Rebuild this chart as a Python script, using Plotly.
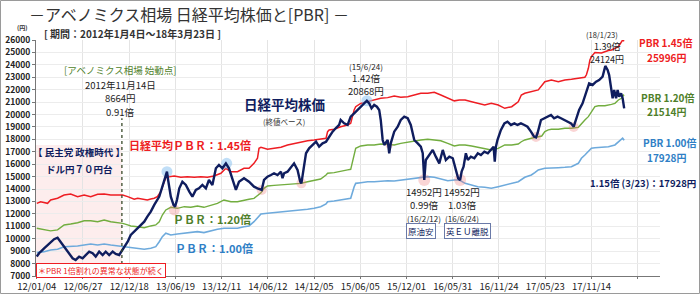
import plotly.graph_objects as go

# ---------------- data (trading-day index from 2012-01-04) ----------------
tick_days = [0, 120, 240, 360, 480, 600, 720, 840, 960, 1080, 1200, 1320, 1440, 1560]
tick_labels = ["12/01/04", "12/06/27", "12/12/18", "13/06/19", "13/12/11", "14/06/12", "14/12/05",
               "15/06/05", "15/12/01", "16/05/31", "16/11/24", "17/05/23", "17/11/14", ""]

nikkei_day = [0, 6, 19, 32, 45, 54, 62, 71, 84, 93, 101, 110, 119, 127, 136, 145, 153, 162, 171, 179, 188, 197, 205, 214, 220,
              227, 236, 244, 253, 262, 270, 279, 287, 296, 305, 312, 318, 326, 333, 338, 341, 348, 355, 359, 364, 370, 378, 387,
              396, 404, 413, 421, 430, 439, 447, 456, 465, 473, 482, 491, 499, 508, 517, 525, 538, 551, 556, 564, 573, 584, 590,
              599, 608, 616, 625, 634, 638, 642, 651, 660, 668, 677, 684, 687, 693, 699, 707, 716, 725, 733, 742, 751, 759, 768,
              776, 785, 789, 798, 807, 815, 824, 833, 841, 850, 857, 863, 869, 876, 883, 889, 893, 898, 902, 911, 915, 919, 928,
              937, 945, 954, 963, 971, 976, 980, 989, 997, 1002, 1006, 1010, 1019, 1028, 1036, 1045, 1054, 1062, 1071, 1080, 1088,
              1094, 1099, 1103, 1108, 1114, 1119, 1127, 1136, 1145, 1153, 1162, 1171, 1179, 1186, 1189, 1192, 1196, 1205, 1214,
              1222, 1231, 1240, 1248, 1257, 1266, 1274, 1283, 1291, 1296, 1300, 1309, 1317, 1326, 1335, 1343, 1352, 1361, 1369,
              1378, 1387, 1394, 1400, 1408, 1417, 1426, 1434, 1443, 1452, 1460, 1469, 1476, 1482, 1486, 1491, 1495, 1499, 1504,
              1508, 1512, 1517, 1521, 1525]
nikkei_val = [8560, 8830, 9230, 9630, 9960, 10085, 9760, 9360, 8830, 8430, 8290, 8560, 8430, 8690, 8960, 8830, 8560, 8960, 8690,
              8960, 8690, 8960, 8770, 8690, 8960, 9360, 9760, 10300, 10570, 10840, 11110, 11370, 11780, 12180, 12720, 13120, 13390,
              14190, 15000, 15400, 14730, 13390, 12720, 12580, 13120, 14060, 14590, 14330, 13790, 13390, 13930, 14060, 14330, 14060,
              14730, 14330, 15670, 15940, 15670, 16070, 15670, 14730, 13930, 14590, 14870, 14590, 14460, 14190, 14060, 13930, 14730,
              15000, 15130, 15270, 15130, 15400, 14870, 15270, 15400, 15800, 16070, 15540, 14590, 14460, 15540, 16880, 17280, 17550,
              17810, 17410, 17680, 17810, 18220, 18620, 18890, 19160, 19560, 19290, 19160, 19830, 20100, 20370, 20630, 20900, 21110,
              20900, 20500, 20770, 20630, 20370, 19560, 17950, 17550, 17950, 16880, 17680, 18620, 19020, 19560, 19830, 19700, 19160,
              18490, 17950, 17680, 17410, 16880, 14730, 16340, 16740, 17150, 16610, 16070, 17150, 16340, 16610, 16480, 15540, 14870,
              14730, 15400, 15800, 16880, 16340, 16610, 16480, 16880, 16740, 17010, 16880, 17150, 17410, 16200, 17410, 17950, 18760,
              19290, 19420, 19160, 19290, 19160, 19290, 19160, 19020, 18620, 18220, 18160, 18490, 19560, 19700, 19830, 19960, 19700,
              19830, 19700, 19560, 19420, 19290, 19020, 19560, 20370, 20900, 21710, 22510, 22380, 22640, 22780, 23050, 23910, 23590,
              23180, 22240, 21310, 21980, 21310, 21980, 21440, 21710, 21310, 20500]

pbr145_day = [0, 10, 28, 36, 54, 71, 88, 106, 123, 140, 158, 175, 192, 210, 223, 236, 244, 253, 262, 279, 287, 296, 305, 313, 322,
              331, 338, 344, 357, 374, 391, 409, 426, 443, 460, 478, 491, 504, 521, 538, 551, 564, 573, 577, 582, 599, 616, 634,
              651, 668, 686, 703, 720, 737, 751, 755, 759, 772, 789, 807, 815, 824, 828, 841, 859, 876, 893, 911, 928, 945, 963,
              980, 997, 1015, 1032, 1049, 1067, 1084, 1097, 1112, 1129, 1145, 1163, 1180, 1198, 1215, 1233, 1250, 1258, 1267, 1284,
              1302, 1319, 1336, 1354, 1371, 1388, 1406, 1423, 1427, 1432, 1436, 1440, 1449, 1466, 1484, 1492, 1510, 1517, 1521, 1525]
pbr145_val = [12850, 12980, 12850, 13120, 13260, 13520, 13600, 13390, 13520, 13390, 13580, 13600, 13520, 13520, 13520, 13390, 13260,
              13180, 13260, 13180, 13120, 13200, 13260, 13390, 13790, 14590, 15130, 15000, 15050, 14950, 15000, 14950, 15000, 14950,
              15050, 15270, 15670, 15400, 15400, 15670, 15670, 16070, 16480, 17280, 17360, 17200, 17280, 17360, 17550, 17680, 17810,
              17890, 17950, 18010, 18090, 18620, 18760, 18810, 19020, 19160, 19290, 20370, 20630, 20900, 21030, 21170, 21310, 21360,
              21490, 21390, 21440, 21570, 21710, 21710, 21790, 21570, 21310, 21100, 21170, 21170, 21030, 20900, 20770, 20900, 20770,
              20500, 20630, 21030, 21570, 21710, 21840, 21980, 22640, 22780, 22640, 22780, 22840, 22920, 23000, 23200, 23720, 24400,
              24660, 25000, 24950, 25150, 25200, 25470, 25800, 26000, 25900]

pbr120_day = [0, 19, 36, 54, 71, 88, 106, 123, 140, 158, 175, 192, 210, 223, 236, 244, 262, 279, 296, 309, 318, 326, 335, 348, 365,
              383, 400, 417, 434, 452, 469, 486, 504, 521, 538, 551, 564, 582, 590, 599, 616, 634, 651, 668, 686, 703, 720, 737,
              751, 755, 772, 789, 807, 815, 824, 828, 841, 859, 876, 893, 911, 928, 945, 963, 980, 997, 1015, 1032, 1049, 1067,
              1084, 1097, 1112, 1129, 1145, 1163, 1180, 1198, 1206, 1215, 1233, 1250, 1258, 1267, 1284, 1302, 1311, 1319, 1328,
              1336, 1354, 1371, 1388, 1406, 1414, 1423, 1432, 1440, 1449, 1458, 1475, 1492, 1501, 1510, 1518, 1521, 1523, 1525]
pbr120_val = [10840, 10710, 10630, 10710, 11110, 11190, 11290, 11450, 11450, 11370, 11510, 11370, 11290, 11240, 11110, 11030, 10970,
              10890, 11030, 11110, 11370, 11910, 12320, 12530, 12450, 12580, 12530, 12640, 12530, 12720, 12850, 13120, 12980, 12980,
              13120, 13180, 13250, 13700, 14060, 14250, 14300, 14350, 14410, 14410, 14460, 14590, 14730, 14810, 15130, 15270, 15320,
              15400, 15540, 15590, 16880, 17280, 17470, 17550, 17550, 17630, 17600, 17550, 17680, 17790, 17890, 17950, 18010, 17950,
              17890, 17680, 17470, 17550, 17550, 17470, 17360, 17280, 17150, 17280, 17410, 17550, 17550, 17630, 17810, 17950, 18090,
              18220, 18270, 18620, 18760, 18810, 18810, 18890, 18890, 18970, 19290, 19560, 19830, 20230, 20630, 20710, 20710, 20820,
              20900, 21170, 21310, 21440, 21570, 21514]

pbr100_day = [0, 19, 36, 54, 71, 88, 106, 123, 140, 158, 175, 192, 210, 223, 236, 244, 262, 279, 296, 309, 318, 326, 335, 348, 365,
              383, 400, 417, 434, 452, 469, 486, 504, 521, 538, 551, 564, 577, 582, 599, 616, 634, 651, 668, 686, 703, 720, 737,
              751, 755, 772, 789, 807, 815, 824, 828, 841, 859, 876, 893, 911, 928, 945, 963, 980, 997, 1015, 1032, 1049, 1067,
              1084, 1097, 1112, 1129, 1145, 1163, 1180, 1198, 1215, 1233, 1250, 1267, 1284, 1293, 1302, 1319, 1336, 1354, 1371,
              1388, 1406, 1414, 1423, 1432, 1440, 1449, 1466, 1484, 1501, 1518, 1521, 1525]
pbr100_val = [8880, 8960, 9100, 9150, 9360, 9360, 9420, 9500, 9580, 9500, 9580, 9500, 9420, 9360, 9360, 9310, 9230, 9150, 9230, 9360,
              9760, 10170, 10440, 10300, 10380, 10440, 10490, 10570, 10490, 10650, 10760, 10840, 10840, 10840, 10970, 11030, 11370,
              11780, 11990, 12050, 12100, 12180, 12180, 12260, 12320, 12370, 12450, 12580, 12800, 12980, 13040, 13120, 13180, 13260,
              14190, 14460, 14510, 14590, 14590, 14650, 14670, 14650, 14730, 14810, 14870, 14950, 15000, 14950, 14790, 14670, 14730,
              14730, 14460, 14330, 14190, 14140, 14060, 14190, 14330, 14460, 14590, 14950, 15130, 15320, 15540, 15670, 15670, 15720,
              15750, 15800, 16070, 16480, 16740, 17010, 17280, 17330, 17360, 17410, 17550, 17950, 18090, 17928]

low_day = [357, 584, 687, 915, 1006, 1099, 1296, 1394]
low_val = [12320, 13930, 14460, 17550, 14730, 14730, 18200, 19000]
low_size = [11, 10, 10, 7, 12, 12, 10, 10]
peak_day = [338, 493, 857]
peak_val = [15400, 16070, 21110]

abenomics_start_day = 221
dpj_shade_top = 17550

# ---------------- layout helpers ----------------
W, H = 700, 294
L, R, T, B = 36, 40, 40, 18
PW, PH = W - L - R, H - T - B


def P(x, y):
    return (x - L) / PW, (H - B - y) / PH


FONT = "Noto Sans CJK JP"
NAVY = "#0f1d5e"
RED = "#ee1d23"
GREEN_L = "#72ad3f"
GREEN_T = "#4f7f2a"
BLUE_L = "#6eaadc"
BLUE_T = "#2f7fc6"
DARK = "#222222"

fig = go.Figure()

fig.add_trace(go.Scatter(x=pbr100_day, y=pbr100_val, mode="lines", line=dict(color=BLUE_L, width=1.6), hoverinfo="skip"))
fig.add_trace(go.Scatter(x=pbr120_day, y=pbr120_val, mode="lines", line=dict(color=GREEN_L, width=1.4), hoverinfo="skip"))
fig.add_trace(go.Scatter(x=pbr145_day, y=pbr145_val, mode="lines", line=dict(color=RED, width=1.5), hoverinfo="skip"))
fig.add_trace(go.Scatter(x=low_day, y=low_val, mode="markers",
                         marker=dict(size=low_size, color="rgba(240,120,120,0.45)", line=dict(width=0)), hoverinfo="skip"))
fig.add_trace(go.Scatter(x=peak_day, y=peak_val, mode="markers",
                         marker=dict(size=11, color="rgba(140,195,240,0.55)", line=dict(width=0)), hoverinfo="skip"))
fig.add_trace(go.Scatter(x=nikkei_day, y=nikkei_val, mode="lines", line=dict(color=NAVY, width=2.4), hoverinfo="skip"))

shapes = [
    dict(type="rect", xref="x", yref="y", x0=-2, x1=abenomics_start_day, y0=7000, y1=dpj_shade_top,
         fillcolor="#fdeded", line=dict(width=0), layer="below"),
    dict(type="line", xref="x", yref="y", x0=abenomics_start_day, x1=abenomics_start_day, y0=7000, y1=19700,
         line=dict(color="#3a4a2a", width=1.3, dash="dot")),
]
bx0, by0 = P(0.5, H - 0.5)
bx1, by1 = P(W - 0.5, 0.5)
shapes.append(dict(type="rect", xref="paper", yref="paper", x0=bx0, x1=bx1, y0=by0, y1=by1,
                   line=dict(color="#9a9a9a", width=1), fillcolor="rgba(0,0,0,0)"))

ann = []


def text(t, x, y, size=9.5, color=DARK, bold=False, anchor="center", **kw):
    px, py = P(x, y)
    if bold:
        t = "<b>" + t + "</b>"
    ann.append(dict(text=t, x=px, y=py, xref="paper", yref="paper", showarrow=False,
                    xanchor=anchor, yanchor="middle", font=dict(family=FONT, size=size, color=color), **kw))


text("－アベノミクス相場 日経平均株価と[PBR] －", 189, 14, size=16, color="#333333")
text("[ 期間：2012年1月4日～18年3月23日 ]", 42, 33, size=10, color="#333333", bold=True, anchor="left")
text("(円)", 22, 28, size=6, color="#333333", bold=True)

text("[アベノミクス相場 始動点]", 120, 70, size=9.5, color=GREEN_T)
text("2012年11月14日", 120, 85, size=9.5)
text("8664円", 120, 98, size=9.5)
text("0.91倍", 120, 112, size=9.5)

text("【 民主党 政権時代 】", 79, 152, size=9.5, color=NAVY, bold=True)
text("ドル円７０円台", 79, 169, size=9.5, color=NAVY, bold=True)

text("日経平均ＰＢＲ：1.45倍", 190, 145, size=11, color=RED, bold=True)
text("ＰＢＲ：1.20倍", 212, 219, size=11, color=GREEN_T, bold=True)
text("ＰＢＲ：1.00倍", 214, 248, size=11, color=BLUE_T, bold=True)

text("＊PBR 1倍割れの異常な状態が続く", 101, 270, size=8, color=RED, bordercolor=RED, borderwidth=1,
     borderpad=1, bgcolor="white")

text("日経平均株価", 284, 104, size=13.5, color=NAVY, bold=True)
text("(終値ベース)", 284, 122, size=7.5, color="#333333")

text("(15/6/24)", 366, 66, size=8)
text("1.42倍", 366, 78, size=9.5)
text("20868円", 366, 91, size=9.5)

text("14952円", 424, 192, size=9.5)
text("0.99倍", 424, 205, size=9.5)
text("(16/2/12)", 424, 218, size=8)
text("原油安", 421, 231, size=8.5, color=NAVY, bordercolor="#6a7aa8", borderwidth=1, borderpad=1, bgcolor="white")

text("14952円", 462, 192, size=9.5)
text("1.03倍", 462, 205, size=9.5)
text("(16/6/24)", 462, 218, size=8)
text("英ＥＵ離脱", 467, 231, size=8.5, color=NAVY, bordercolor="#6a7aa8", borderwidth=1, borderpad=1, bgcolor="white")

text("(18/1/23)", 602, 34, size=7.5)
text("1.39倍", 607, 46, size=9)
text("24124円", 607, 59, size=9)

text("PBR 1.45倍", 666, 43, size=10, color=RED, bold=True)
text("25996円", 667, 57, size=10, color=RED, bold=True)
text("PBR 1.20倍", 668, 97, size=10, color=GREEN_T, bold=True)
text("21514円", 667, 112, size=10, color=GREEN_T, bold=True)
text("PBR 1.00倍", 670, 142, size=10, color=BLUE_T, bold=True)
text("17928円", 667, 157, size=10, color=BLUE_T, bold=True)
text("1.15倍 (3/23)：17928円", 643, 183, size=9.5, color=NAVY, bold=True)

fig.update_layout(
    width=W, height=H, margin=dict(l=L, r=R, t=T, b=B, autoexpand=False),
    plot_bgcolor="white", paper_bgcolor="white", showlegend=False,
    shapes=shapes, annotations=ann,
    xaxis=dict(range=[-2, 1618], tickvals=tick_days, ticktext=tick_labels, showgrid=True, gridcolor="#e4e4e4",
               gridwidth=1, zeroline=False, showline=True, linecolor="#777777", ticks="outside", ticklen=2,
               tickcolor="#777777", automargin=False, tickfont=dict(family=FONT, size=9.5, color=DARK)),
    yaxis=dict(range=[7000, 26000], dtick=1000, tick0=7000, tickformat="d", showgrid=True, gridcolor="#ececec",
               gridwidth=1, zeroline=False, showline=True, linecolor="#777777", ticks="outside", ticklen=3,
               tickcolor="#777777", automargin=False,
               tickfont=dict(family=FONT, size=8.5, color=DARK, weight="bold")),
)

fig.write_html("out.html")
